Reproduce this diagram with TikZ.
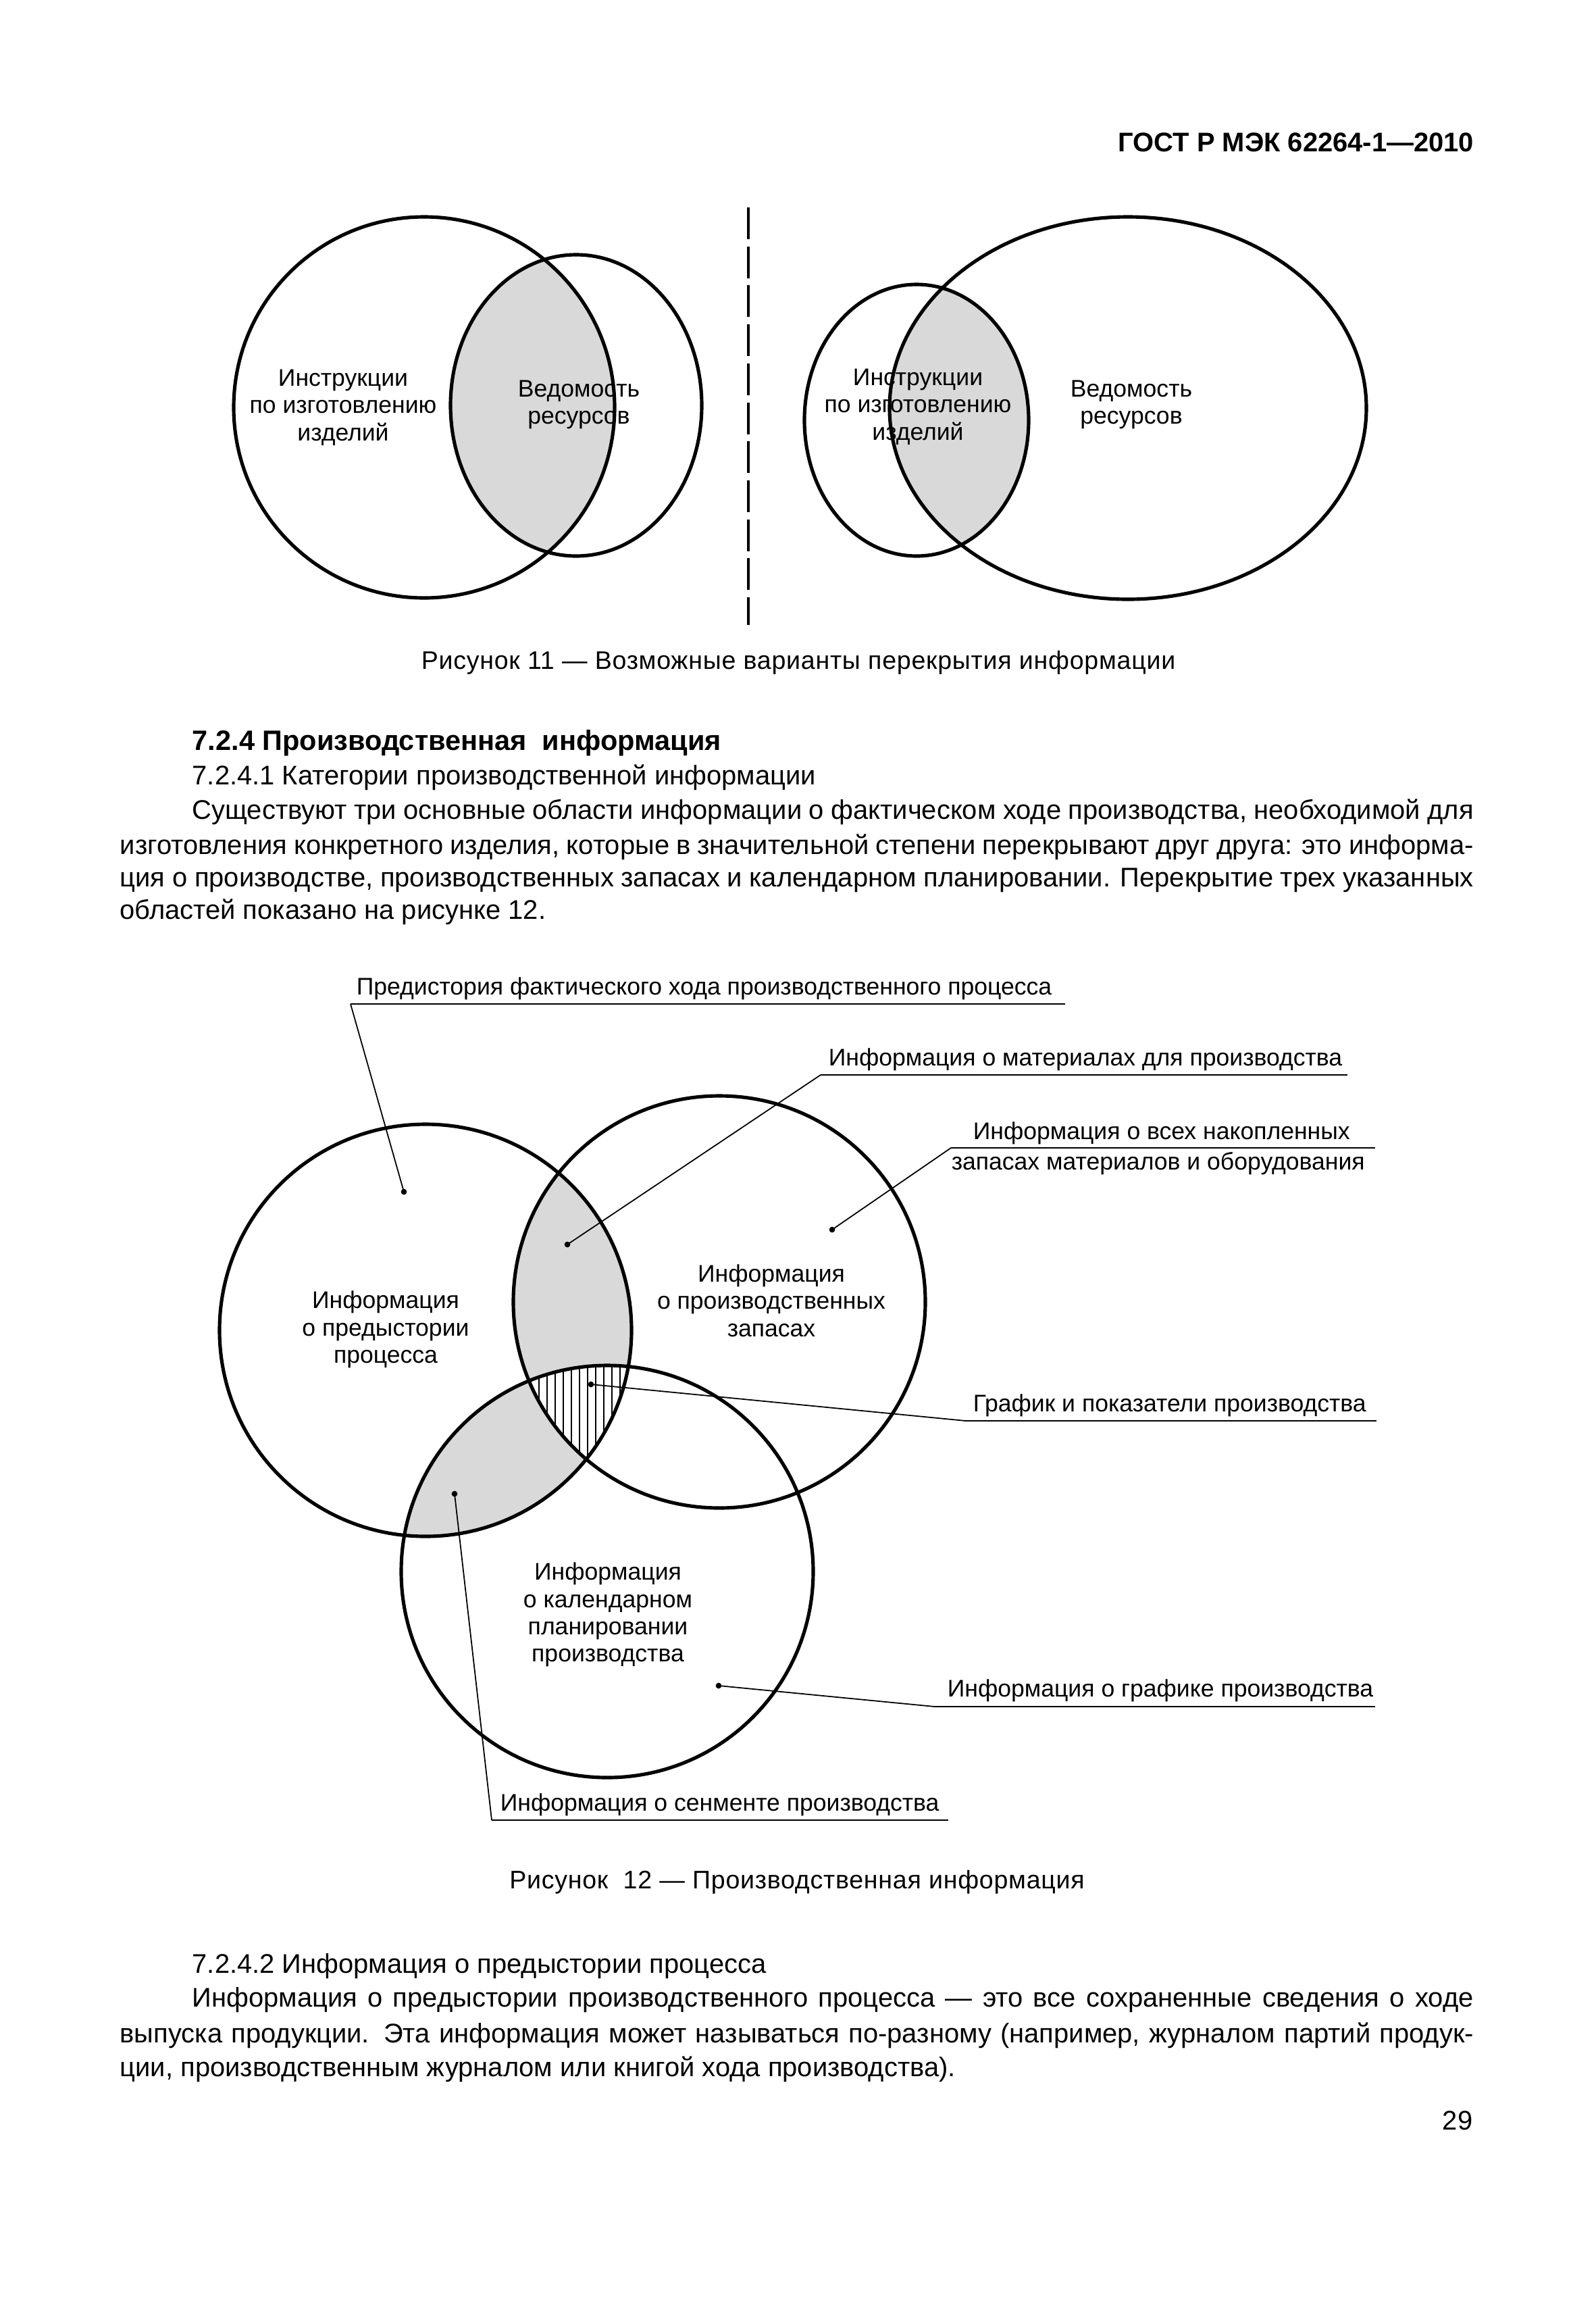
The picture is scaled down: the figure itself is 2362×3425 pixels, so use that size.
\documentclass[tikz,border=0pt]{standalone}
\usepackage{fontspec}
\setmainfont{Liberation Sans}
\newfontfamily\capfont[LetterSpace=2]{Liberation Sans}
\newlength\pxu
\setlength\pxu{0.253pt}
\tikzset{
  ring/.style={line width=1.3pt},
  lens/.style={fill=black!15},
  lbl/.style={font=\fontsize{9}{10.2}\selectfont, align=center, inner sep=0pt},
  tag/.style={font=\fontsize{9}{10.2}\selectfont, anchor=base west, inner sep=0pt},
  uline/.style={line width=0.6pt},
  leader/.style={line width=0.45pt},
  body/.style={font=\fontsize{10.1}{12.2}\selectfont, anchor=base west, inner sep=0pt},
  pin/.style={circle, fill=black, inner sep=0pt, minimum size=2.2pt}
}
\begin{document}
\begin{tikzpicture}[x=0.253pt,y=-0.253pt]
\useasboundingbox (0,0) rectangle (2362,3425);
\fill[white] (0,0) rectangle (2362,3425);

% header
\node[font=\fontsize{10.1}{12}\selectfont\bfseries, anchor=base east, inner sep=0pt] (hdr) at (2183,224) {ГОСТ Р МЭК 62264-1—2010};

% ---------- Figure 11 ----------
\begin{scope}
  \clip (628,603) circle[radius=282];
  \fill[lens] (853,600) ellipse[x radius=186, y radius=223];
\end{scope}
\begin{scope}
  \clip (1357,622) ellipse[x radius=166, y radius=201];
  \fill[lens] (1670,604) ellipse[x radius=353, y radius=283];
\end{scope}
\draw[ring] (628,603) circle[radius=282];
\draw[ring] (853,600) ellipse[x radius=186, y radius=223];
\draw[ring] (1357,622) ellipse[x radius=166, y radius=201];
\draw[ring] (1670,604) ellipse[x radius=353, y radius=283];

\coordinate (dtop) at (1108,307);
\coordinate (dbot) at (1108,925);
\draw[line width=1.05pt, dash pattern=on 11.9pt off 2.7pt] (dtop) -- (dbot);

\node[lbl] (l1) at (508,603) {Инструкции\\по изготовлению\\изделий};
\node[lbl] (l2) at (857,599) {Ведомость\\ресурсов};
\node[lbl] (r1) at (1359,602) {Инструкции\\по изготовлению\\изделий};
\node[lbl] (r2) at (1675,599) {Ведомость\\ресурсов};

\node[anchor=base, inner sep=0pt] (cap11) at (1182,990) {\capfont\fontsize{9.5}{12}\selectfont Рисунок 11 — Возможные варианты перекрытия информации};

% ---------- text ----------
\node[body, font=\fontsize{10.5}{12.6}\selectfont\bfseries] (h1) at (284,1110) {7.2.4 Производственная \ информация};
\node[body] (t1) at (284,1161) {7.2.4.1 Категории производственной информации};
\node[body] (t2) at (284,1212) {\makebox[1897\pxu][s]{Существуют три основные области информации о фактическом ходе производства, необходимой для}};
\node[body] (t3) at (177,1264) {\makebox[2004\pxu][s]{изготовления конкретного изделия, которые в значительной степени перекрывают друг друга: это информа-}};
\node[body] (t4) at (177,1312) {\makebox[2004\pxu][s]{ция о производстве, производственных запасах и календарном планировании. Перекрытие трех указанных}};
\node[body] (t5) at (177,1360) {областей показано на рисунке 12.};

% ---------- Figure 12 ----------
\coordinate (cA) at (630,1969);
\coordinate (cB) at (1065,1927);
\coordinate (cC) at (899,2326);
\begin{scope}
  \clip (cA) circle[radius=305];
  \fill[lens] (cB) circle[radius=305];
  \fill[lens] (cC) circle[radius=305];
  \clip (cB) circle[radius=305];
  \clip (cC) circle[radius=305];
  \fill[white] (cA) circle[radius=305];
  \foreach \hx in {762,774,...,1000} {\draw[line width=0.55pt] (\hx,1900) -- (\hx,2300);}
\end{scope}
\draw[ring] (cA) circle[radius=305];
\draw[ring] (cB) circle[radius=305];
\draw[ring] (cC) circle[radius=305];

\node[lbl] (ta) at (571,1968) {Информация\\о предыстории\\процесса};
\node[lbl] (tb) at (1142,1925) {Информация\\о производственных\\запасах};
\node[lbl] (tc) at (900,2390) {Информация\\о календарном\\планировании\\производства};

% pins
\node[pin] (p1) at (598,1764) {};
\node[pin] (p2) at (840,1842) {};
\node[pin] (p3) at (1232,1820) {};
\node[pin] (p4) at (875,2049) {};
\node[pin] (p5) at (1064,2495) {};
\node[pin] (p6) at (673,2211) {};

% label 1
\node[tag] (n1) at (527,1472) {Предистория фактического хода производственного процесса};
\coordinate (u1a) at (519,1486); \coordinate (u1b) at (1577,1486);
\draw[uline] (u1a) -- (u1b);
\draw[leader] (u1a) -- (p1.center);
% label 2
\node[tag] (n2) at (1226,1577) {Информация о материалах для производства};
\coordinate (u2a) at (1215,1591); \coordinate (u2b) at (1995,1591);
\draw[uline] (u2a) -- (u2b);
\draw[leader] (u2a) -- (p2.center);
% label 3
\node[tag] (n3a) at (1440,1686) {Информация о всех накопленных};
\node[tag] (n3b) at (1408,1731) {запасах материалов и оборудования};
\coordinate (u3a) at (1408,1699); \coordinate (u3b) at (2036,1699);
\draw[uline] (u3a) -- (u3b);
\draw[leader] (u3a) -- (p3.center);
% label 4
\node[tag] (n4) at (1440,2089) {График и показатели производства};
\coordinate (u4a) at (1430,2103); \coordinate (u4b) at (2038,2103);
\draw[uline] (u4a) -- (u4b);
\draw[leader] (u4a) -- (p4.center);
% label 5
\node[tag] (n5) at (1402,2511) {Информация о графике производства};
\coordinate (u5a) at (1384,2526); \coordinate (u5b) at (2036,2526);
\draw[uline] (u5a) -- (u5b);
\draw[leader] (u5a) -- (p5.center);
% label 6
\node[tag] (n6) at (740,2680) {Информация о сенменте производства};
\coordinate (u6a) at (728,2694); \coordinate (u6b) at (1404,2694);
\draw[uline] (u6a) -- (u6b);
\draw[leader] (u6a) -- (p6.center);

\node[anchor=base, inner sep=0pt] (cap12) at (1180,2795) {\capfont\fontsize{9.5}{12}\selectfont Рисунок \ 12 — Производственная информация};

% ---------- text ----------
\node[body] (t6) at (284,2920) {7.2.4.2 Информация о предыстории процесса};
\node[body] (t7) at (284,2970) {\makebox[1897\pxu][s]{Информация о предыстории производственного процесса — это все сохраненные сведения о ходе}};
\node[body] (t8) at (177,3023) {\makebox[2004\pxu][s]{выпуска продукции. Эта информация может называться по-разному (например, журналом партий продук-}};
\node[body] (t9) at (177,3073) {ции, производственным журналом или книгой хода производства).};
\node[body, anchor=base east] (pg) at (2181,3152) {29};
\end{tikzpicture}
\end{document}
